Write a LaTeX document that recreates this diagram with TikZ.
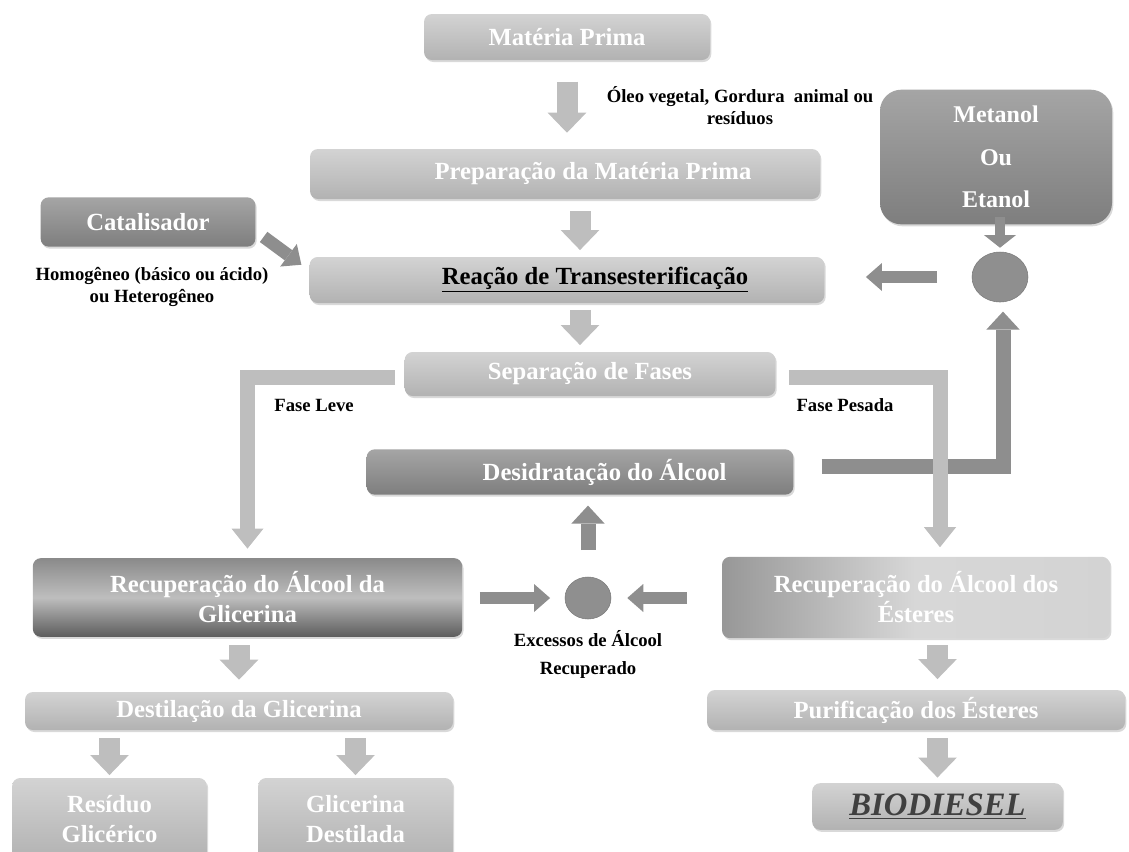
\documentclass[tikz,border=0pt]{standalone}
\usepackage{fontspec}
\setmainfont{Liberation Serif}
\usetikzlibrary{arrows.meta,shapes.geometric,shadows,calc}

\definecolor{boxtop}{HTML}{D3D3D3}
\definecolor{boxbot}{HTML}{B2B2B2}
\definecolor{darktop}{HTML}{A5A5A5}
\definecolor{darkbot}{HTML}{7E7E7E}
\definecolor{metaltop}{HTML}{8A8A8A}
\definecolor{metalmid}{HTML}{BEBEBE}
\definecolor{metalbot}{HTML}{5C5C5C}
\definecolor{flowlight}{HTML}{BEBEBE}
\definecolor{flowdark}{HTML}{8E8E8E}
\definecolor{mixgray}{HTML}{8F8F8F}
\definecolor{biotext}{HTML}{404040}

\begin{document}
\begin{tikzpicture}[
    x=0.75pt, y=-0.75pt,
    stepbox/.style={rounded corners=6pt, top color=boxtop, bottom color=boxbot,
        text=white, align=center, inner sep=0pt,
        font=\fontsize{18.5}{23}\selectfont\bfseries,
        drop shadow={shadow xshift=1pt, shadow yshift=-1.5pt, opacity=.3}},
    darkbox/.style={stepbox, top color=darktop, bottom color=darkbot},
    note/.style={align=center, inner sep=0pt, font=\fontsize{14}{16.5}\selectfont\bfseries},
    mixer/.style={ellipse, fill=mixgray, draw=mixgray!85!black, line width=.4pt, inner sep=0pt},
    flow/.style={draw=flowlight, line width=15.75pt,
        -{Triangle[width=29pt, length=15pt, line width=0pt]}},
    phase/.style={draw=flowlight, line width=11.25pt,
        -{Triangle[width=24pt, length=15pt, line width=0pt]}},
    feed/.style={draw=flowdark, line width=9.5pt,
        -{Triangle[width=21pt, length=12pt, line width=0pt]}},
    back/.style={draw=flowdark, line width=11.25pt,
        -{Triangle[width=25pt, length=13.5pt, line width=0pt]}}
]
\useasboundingbox (0,0) rectangle (1129,851);

% Main line
\node[stepbox, minimum width=214.5pt, minimum height=34.5pt] (mp) at (567,37) {Matéria Prima};
\node[stepbox, minimum width=382.5pt, minimum height=37.5pt] (prep) at (565,174) {\hspace*{42pt}Preparação da Matéria Prima};
\node[stepbox, minimum width=386pt, minimum height=34.5pt, text=black] (reac) at (567,280) {\hspace*{42pt}\underline{Reação de Transesterificação}};
\node[stepbox, minimum width=278pt, minimum height=33pt] (sep) at (590,374) {Separação de Fases};
\node[darkbox, minimum width=320pt, minimum height=34pt] (desid) at (580,472) {\hspace*{37pt}Desidratação do Álcool};

% Catalyst and alcohol feed
\node[darkbox, minimum width=161pt, minimum height=37pt] (cat) at (148,222) {Catalisador};
\node[darkbox, rounded corners=16pt, minimum width=174pt, minimum height=101pt,
      font=\fontsize{18}{32}\selectfont\bfseries] (alc) at (996,157) {Metanol\\Ou\\Etanol};
\node[mixer, minimum width=42pt, minimum height=37.5pt] (mixa) at (1000,277) {};

% Recovery boxes
\node[stepbox, top color=metaltop, bottom color=metalbot, middle color=metalmid,
      minimum width=322pt, minimum height=59pt, font=\fontsize{18.5}{22.5}\selectfont\bfseries]
      (glic) at (247.5,597.5) {Recuperação do Álcool da\\Glicerina};
\node[mixer, minimum width=34.5pt, minimum height=31.5pt] (mixb) at (588,598) {};
\node[stepbox, left color=boxbot!85!black, right color=boxtop, middle color=boxtop!90!white,
      minimum width=291pt, minimum height=61pt, font=\fontsize{18.5}{22.5}\selectfont\bfseries]
      (est) at (916,597.5) {Recuperação do Álcool dos\\Ésteres};

% Glycerin side
\node[stepbox, minimum width=321pt, minimum height=28.5pt] (dest) at (239,711) {Destilação da Glicerina};
\node[stepbox, minimum width=146pt, minimum height=61.5pt] (res) at (109.5,819) {Resíduo\\Glicérico};
\node[stepbox, minimum width=146pt, minimum height=61.5pt] (gd) at (355.5,819) {Glicerina\\Destilada};

% Ester side
\node[stepbox, minimum width=313.5pt, minimum height=30pt] (pur) at (916,710) {Purificação dos Ésteres};
\node[stepbox, minimum width=188pt, minimum height=35pt, text=biotext,
      font=\fontsize{24.5}{28}\selectfont\bfseries\itshape] (bio) at (937.5,806.5) {\underline{BIODIESEL}};

% Labels
\node[note] (oleo) at (740,106) {Óleo vegetal, Gordura~ animal ou\\resíduos};
\node[note, font=\fontsize{14}{17}\selectfont\bfseries] (homog) at (152,287) {Homogêneo (básico ou ácido)\\ou Heterogêneo};
\node[note] (leve) at (314,405) {Fase Leve};
\node[note] (pesada) at (845,405) {Fase Pesada};
\node[note, font=\fontsize{14}{21}\selectfont\bfseries] (exc) at (588,654) {Excessos de Álcool\\Recuperado};

% Arrows down the main line
\draw[flow, shorten <=16pt, shorten >=12pt] (mp.south) -- (mp.south |- prep.north);
\draw[flow, shorten <=9pt, shorten >=5pt] (prep.south -| desid.north) -- (reac.north -| desid.north);
\draw[flow, shorten <=5pt, shorten >=5pt] (reac.south -| desid.north) -- (sep.north -| desid.north);

% Catalyst and alcohol into the reaction
\draw[feed] ([shift={(8,-10)}]cat.south east) -- ([shift={(-8,8)}]reac.north west);
\draw[feed, line width=8pt, -{Triangle[width=24pt, length=9.5pt, line width=0pt]},
      shorten <=-6pt, shorten >=3pt] (alc.south -| mixa.north) -- (mixa.north);
\draw[feed, shorten <=26pt, shorten >=31pt] (mixa.west) -- (mixa.west -| reac.east);

% Alcohol return loop
\draw[back, shorten <=21pt, shorten >=7pt] ($(desid.east)+(0,-6)$) -| ($(mixa.south)+(3,0)$);

% Phase split
\draw[phase, shorten <=7pt, shorten >=7pt] ($(sep.west)+(0,3)$) -| (glic.north);
\draw[phase, shorten <=10pt, shorten >=7pt] ($(sep.east)+(0,3)$) -| ($(est.north)+(24,0)$);

% Excess alcohol recovery
\draw[feed, shorten <=13pt, shorten >=11pt] (glic.east |- mixb.west) -- (mixb.west);
\draw[feed, shorten <=26pt, shorten >=12pt] (est.west |- mixb.east) -- (mixb.east);
\draw[back, shorten <=20pt, shorten >=8pt] (mixb.north) -- (desid.south -| mixb.north);

% Glycerin distillation
\draw[flow, shorten <=6pt, shorten >=9pt] (glic.south -| dest.north) -- (dest.north);
\draw[flow, shorten <=6pt, shorten >=2pt] (dest.south -| res.north) -- (res.north);
\draw[flow, shorten <=6pt, shorten >=2pt] (dest.south -| gd.north) -- (gd.north);

% Ester purification
\draw[flow, shorten <=5pt, shorten >=8pt] (est.south -| bio.north) -- (pur.north -| bio.north);
\draw[flow, shorten <=6pt, shorten >=4pt] (pur.south -| bio.north) -- (bio.north);

\end{tikzpicture}
\end{document}
